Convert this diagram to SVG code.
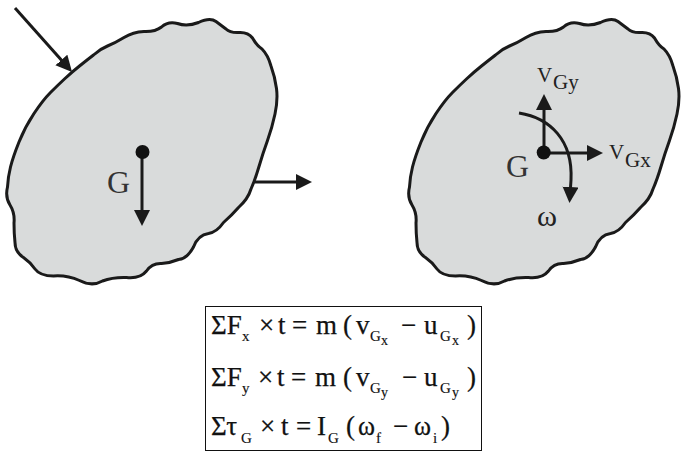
<svg xmlns="http://www.w3.org/2000/svg" width="696" height="466" viewBox="0 0 696 466">
<style>
text{font-family:"Liberation Serif","Times New Roman",serif;fill:#111}
.blob{fill:#d9dbdb;stroke:#1a1a1a;stroke-width:3;stroke-linejoin:round}
.con{fill:none;stroke:#1a1a1a;stroke-width:3}
.g{font-size:32px;fill:#333}
.lab{font-size:21px;fill:#222}
.eq{font-size:27px;stroke:#111;stroke-width:.25}
.s1{font-size:15px;stroke:#111;stroke-width:.15}
.s2{font-size:14px;stroke:#111;stroke-width:.15}
</style>
<defs>
<path id="shape" d="M65,78.5Q72,72 79.5,66Q87,60 93.500,55Q100,49 107.500,46Q115,43 124,37.500Q133,32 144,31.500Q155,32 161.500,27Q168,21 177.500,23.500Q187,27 198.500,22.500Q210,17 216,21.500Q222,26 226,29Q230,33 239,32.500Q248,32 252.500,38Q257,46 262,49Q268,55 271,66Q275,77 276.500,88.500Q278,100 275,114Q272,128 267.500,140.500Q263,153 259,166.500Q255,180 251,189Q248,199 238.500,207.500Q232,215 223.500,222.500Q217,232 208.500,233.500Q198,235 193.500,247Q187,259 178.500,259.500Q170,263 161.500,263.500Q152,263 146.500,271Q140,279 126.500,277.500Q113,277 102.500,281Q92,287 79.500,280.500Q67,275 53.500,276Q40,276 35,269Q30,262 23.500,257.500Q15,252 15,242.500Q14,233 14,223Q15,213 10,205Q5,197 7.500,187Q8,177 10.500,167Q13,157 19,142Q25,127 34,113.500Q43,100 50.500,92.500Q58,85 65,78.500Z"/>
<marker id="head" markerUnits="userSpaceOnUse" markerWidth="20" markerHeight="20" refX="8" refY="8" orient="auto"><path d="M0,0L16,8L0,16Z" fill="#1a1a1a"/></marker>
</defs>
<g id="body-left"><use href="#shape" class="blob"/></g>
<g id="body-right"><use href="#shape" x="402" class="blob"/></g>
<g id="connectors">
<path class="con" d="M15,8L66.700,66" marker-end="url(#head)"/>
<path class="con" d="M142,152V218" marker-end="url(#head)"/>
<path class="con" d="M255,182H304" marker-end="url(#head)"/>
<path class="con" d="M544,152V102" marker-end="url(#head)"/>
<path class="con" d="M544,153H595" marker-end="url(#head)"/>
<path class="con" d="M519,113C550,118 573,140 571,180L570,195" marker-end="url(#head)"/>
</g>
<g id="point-left"><circle cx="142.500" cy="152" r="7" fill="#111"/><text class="g" x="107" y="193">G</text></g>
<g id="point-right"><circle cx="543.700" cy="152.500" r="7" fill="#111"/><text class="g" x="506" y="177">G</text></g>
<g id="labels">
<text class="lab" x="537" y="82">V</text><text class="lab" x="553" y="89">Gy</text>
<text class="lab" x="609" y="159">V</text><text class="lab" x="625" y="167">Gx</text>
<text x="537" y="226" textLength="20" lengthAdjust="spacingAndGlyphs" style="font-size:29px;fill:#222">ω</text>
</g>
<g id="equations">
<rect x="205.500" y="306.500" width="276" height="144" fill="#fff" stroke="#111" stroke-width="1"/>
<text class="eq" x="211" y="334">ΣF</text><text class="s1" x="242" y="341">x</text>
<text class="eq" x="259" y="334">×</text><text class="eq" x="278" y="334">t</text><text class="eq" x="292" y="334">=</text><text class="eq" x="316" y="334">m</text><text class="eq" x="343" y="334">(</text><text class="eq" x="356" y="334">v</text>
<text class="s1" x="370" y="341">G</text><text class="s2" x="381" y="345">x</text>
<text class="eq" x="401" y="334">−</text><text class="eq" x="424" y="334">u</text>
<text class="s1" x="440" y="341">G</text><text class="s2" x="452" y="345">x</text>
<text class="eq" x="467" y="334">)</text>
<text class="eq" x="211" y="386">ΣF</text><text class="s1" x="242" y="393">y</text>
<text class="eq" x="258" y="386">×</text><text class="eq" x="277" y="386">t</text><text class="eq" x="291" y="386">=</text><text class="eq" x="315" y="386">m</text><text class="eq" x="343" y="386">(</text><text class="eq" x="356" y="386">v</text>
<text class="s1" x="370" y="393">G</text><text class="s2" x="381" y="397">y</text>
<text class="eq" x="402" y="386">−</text><text class="eq" x="424" y="386">u</text>
<text class="s1" x="440" y="393">G</text><text class="s2" x="452" y="397">y</text>
<text class="eq" x="467" y="386">)</text>
<text class="eq" x="211" y="435">Στ</text><text class="s1" x="241" y="443">G</text>
<text class="eq" x="260" y="435">×</text><text class="eq" x="281" y="435">t</text><text class="eq" x="296" y="435">=</text><text class="eq" x="317" y="435">I</text><text class="s1" x="328" y="443">G</text>
<text class="eq" x="346" y="435">(</text><text class="eq" x="358" y="435" textLength="17" lengthAdjust="spacingAndGlyphs">ω</text><text class="s1" x="376" y="443">f</text>
<text class="eq" x="393" y="435">−</text><text class="eq" x="414" y="435" textLength="17" lengthAdjust="spacingAndGlyphs">ω</text><text class="s1" x="433" y="443">i</text>
<text class="eq" x="441" y="435">)</text>
</g>
</svg>
